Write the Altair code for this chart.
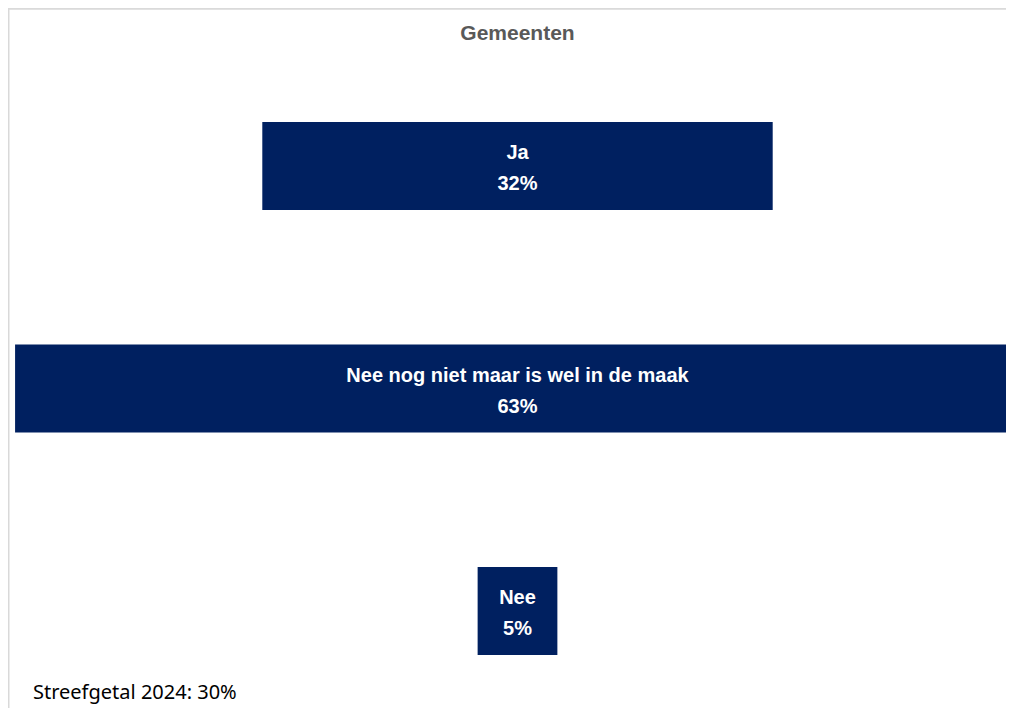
import altair as alt
import pandas as pd

categories = ["Ja", "Nee nog niet maar is wel in de maak", "Nee"]
values = [32, 63, 5]
labels = ["32%", "63%", "5%"]
title_text = "Gemeenten"
note_text = "Streefgetal 2024: 30%"

df = pd.DataFrame({"cat": categories, "val": values, "pct": labels})
df["lab"] = df["cat"] + "\n" + df["pct"]

W, H = 998, 700
BLUE = "#002060"

# ~16 px per percent, centred at x=509.5
PX = 15.95
xscale = alt.Scale(domain=[-509.5 / PX, (W - 509.5) / PX], nice=False, zero=False)
# bands: step 222.5, bandwidth 88, first band top at 114
step = 222.5
pi = 1 - 88 / step
outer = H - (3 - pi) * step
po = outer / (2 * step)
al = 114 / outer
yscale = alt.Scale(domain=categories, paddingInner=pi, paddingOuter=po, align=al)

base = alt.Chart(df).transform_calculate(lo="-datum.val/2", hi="datum.val/2", mid="0")

bars = base.mark_bar(color=BLUE, clip=False).encode(
    x=alt.X("lo:Q", scale=xscale, axis=None),
    x2="hi:Q",
    y=alt.Y("cat:N", scale=yscale, axis=None, sort=categories),
)

texts = base.mark_text(
    color="white", font="Liberation Sans", fontWeight="bold", fontSize=20,
    lineHeight=31, baseline="middle", align="center", dy=-13, lineBreak="\n"
).encode(
    x=alt.X("mid:Q", scale=xscale, axis=None),
    y=alt.Y("cat:N", scale=yscale, axis=None, sort=categories),
    text="lab:N",
)

border = alt.Chart(pd.DataFrame({"a": [0]})).mark_rule(color="#d9d9d9", strokeWidth=1.5).encode(
    x=alt.value(0), x2=alt.value(W), y=alt.value(1)
) + alt.Chart(pd.DataFrame({"a": [0]})).mark_rule(color="#d9d9d9", strokeWidth=1.5).encode(
    x=alt.value(0.75), y=alt.value(0), y2=alt.value(H)
)

title = alt.Chart(pd.DataFrame({"t": [title_text]})).mark_text(
    color="#595959", font="Liberation Sans", fontWeight="bold", fontSize=21,
    baseline="middle", align="center"
).encode(x=alt.value(509.5), y=alt.value(26), text="t:N")

note = alt.Chart(pd.DataFrame({"t": [note_text]})).mark_text(
    color="#000000", font="Noto Sans", fontSize=20,
    baseline="middle", align="left"
).encode(x=alt.value(25), y=alt.value(685), text="t:N")

chart = alt.layer(border, bars, texts, title, note).properties(
    width=W, height=H, padding=0, autosize=alt.AutoSizeParams(type="none")
).configure_view(stroke=None).configure(background="white")

chart.save("out.html", embed_options={"renderer": "svg", "actions": False})
